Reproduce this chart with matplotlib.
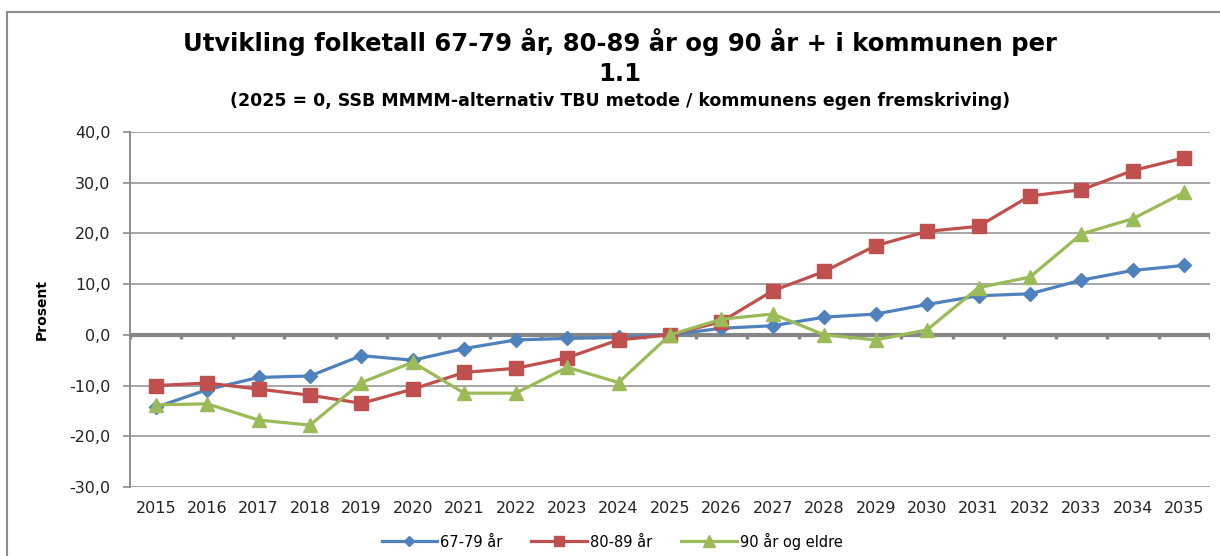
import matplotlib.pyplot as plt
from matplotlib.patches import Rectangle
import numpy as np

# Data (prosent endring, 2025 = 0)
years = [str(y) for y in range(2015, 2036)]
alder_67_79 = [-14.3, -10.8, -8.4, -8.1, -4.1, -5.0, -2.7, -1.0, -0.7, -0.5, 0.0,
               1.3, 1.8, 3.5, 4.1, 6.0, 7.7, 8.1, 10.8, 12.7, 13.7]
alder_80_89 = [-10.0, -9.5, -10.7, -11.9, -13.5, -10.7, -7.4, -6.6, -4.5, -1.0, 0.0,
               2.6, 8.7, 12.5, 17.6, 20.4, 21.4, 27.4, 28.6, 32.4, 34.9]
alder_90 = [-13.8, -13.6, -16.8, -17.8, -9.4, -5.4, -11.5, -11.5, -6.4, -9.4, 0.0,
            3.1, 4.1, 0.0, -1.0, 1.0, 9.3, 11.4, 19.9, 22.9, 28.1]
yticks = [-30, -20, -10, 0, 10, 20, 30, 40]

title = "Utvikling folketall 67-79 år, 80-89 år og 90 år + i kommunen per\n1.1"
subtitle = "(2025 = 0, SSB MMMM-alternativ TBU metode / kommunens egen fremskriving)"

plt.rcParams['font.family'] = 'DejaVu Sans'

fig = plt.figure(figsize=(12.2, 5.56), dpi=100)
ax = fig.add_axes([130 / 1220, 1 - 487 / 556, 1080 / 1220, 355 / 556])

# Ramme rundt hele diagrammet
fig.patches.append(Rectangle((7 / 1220, -0.05), 1.2, 1 - 12 / 556 + 0.05,
                             transform=fig.transFigure, fill=False,
                             edgecolor='#8c8c8c', linewidth=1.5))

x = np.arange(len(years))
ax.plot(x, alder_67_79, color='#4F81BD', lw=2.3, marker='D', ms=7, label='67-79 år')
ax.plot(x, alder_80_89, color='#C0504D', lw=2.3, marker='s', ms=9.5, label='80-89 år')
ax.plot(x, alder_90, color='#9BBB59', lw=2.3, marker='^', ms=10, label='90 år og eldre')

ax.set_xlim(-0.5, len(years) - 0.5)
ax.set_ylim(-30, 40)
ax.set_yticks(yticks)
ax.set_yticklabels([f"{v:.1f}".replace('.', ',') for v in yticks])
ax.set_xticks(x)
ax.set_xticklabels(years)
ax.tick_params(axis='x', length=0, labelsize=11.5, pad=10, colors='#222222')
ax.tick_params(axis='y', length=5, width=1.2, color='#8c8c8c', labelsize=11.5,
               pad=9, labelcolor='#222222')

for v in yticks:
    if v != 0:
        ax.axhline(v, color='#a6a6a6', lw=1.4, zorder=0)
ax.axhline(0, color='#868686', lw=3, zorder=1)
# små streker under nullinjen mellom kategoriene
for b in np.arange(-0.5, len(years), 1.0):
    ax.plot([b, b], [0, -0.8], color='#868686', lw=2.5, zorder=1, solid_capstyle='butt')

for s in ['top', 'right', 'bottom']:
    ax.spines[s].set_visible(False)
ax.spines['left'].set_color('#8c8c8c')
ax.spines['left'].set_linewidth(1.4)

ax.set_ylabel('Prosent', fontsize=10, fontweight='bold', labelpad=15)

fig.text(620 / 1220, 1 - 57 / 556, title, ha='center', va='center', fontsize=17.5,
         fontweight='bold', linespacing=1.35)
fig.text(620 / 1220, 1 - 101 / 556, subtitle, ha='center', va='center', fontsize=12.5,
         fontweight='bold')

fig.legend(loc='center', bbox_to_anchor=(612 / 1220, 1 - 541 / 556), ncol=3,
           frameon=False, prop={'size': 10.5}, handlelength=3.8,
           handletextpad=0.2, columnspacing=2.0, markerscale=0.8)

fig.savefig('out.png', dpi=100)
